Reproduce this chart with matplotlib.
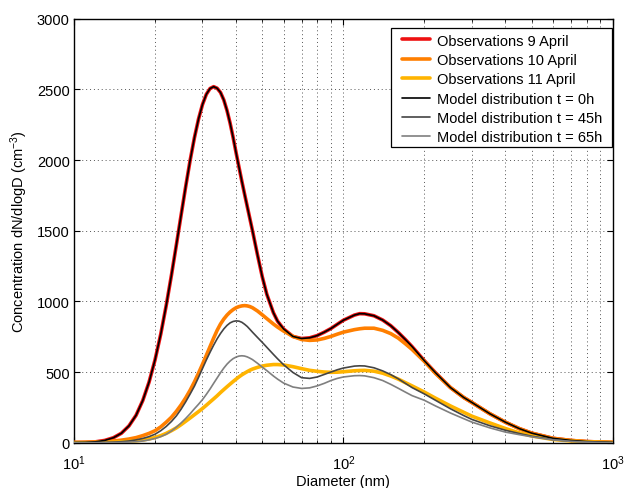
import numpy as np
import matplotlib
matplotlib.use("Agg")
import matplotlib.pyplot as plt
from matplotlib.patches import Rectangle
from matplotlib.ticker import LogLocator, NullFormatter

plt.rcParams['font.family'] = ['Liberation Sans', 'DejaVu Sans']
plt.rcParams['mathtext.fontset'] = 'custom'
plt.rcParams['mathtext.rm'] = 'Liberation Sans'
plt.rcParams['mathtext.it'] = 'Liberation Sans:italic'

diam = [10, 11, 12, 13, 14, 15, 16, 17, 18, 19, 20, 21, 22, 23, 24, 25, 26, 27, 28,
        29, 30, 31, 32, 33, 34, 35, 36, 37, 38, 39, 40, 41, 42, 43, 44, 45, 46, 48,
        50, 52, 55, 57, 60, 65, 70, 75, 80, 85, 90, 95, 100, 110, 115, 120, 130,
        140, 150, 160, 170, 180, 200, 220, 250, 280, 300, 350, 400, 450, 500, 600,
        700, 800, 1000]

obs_9apr = [1, 2, 6, 16, 35, 67, 119, 194, 298, 429, 587, 769, 971, 1184, 1401, 1613,
            1815, 1999, 2158, 2290, 2393, 2465, 2506, 2519, 2508, 2478, 2425, 2350,
            2260, 2158, 2050, 1948, 1850, 1758, 1670, 1584, 1500, 1330, 1175, 1050,
            920, 860, 805, 752, 737, 742, 758, 782, 808, 838, 866, 903, 913, 912,
            898, 868, 828, 780, 730, 680, 580, 495, 390, 320, 285, 205, 145, 100,
            68, 31, 16, 8, 2]
obs_10apr = [2, 3, 5, 8, 12, 18, 26, 36, 50, 66, 85, 112, 145, 180, 222, 268, 318,
             372, 430, 492, 555, 618, 680, 740, 795, 840, 875, 903, 925, 942, 955,
             963, 968, 970, 968, 963, 955, 932, 905, 878, 840, 818, 790, 752, 730,
             724, 727, 738, 752, 768, 782, 800, 806, 810, 810, 795, 772, 740, 700,
             660, 575, 490, 390, 320, 285, 205, 145, 100, 68, 31, 16, 8, 2]
obs_11apr = [0, 0, 1, 2, 4, 6, 9, 13, 19, 27, 37, 50, 66, 85, 105, 128, 152, 175,
             198, 220, 242, 265, 288, 310, 332, 355, 376, 396, 415, 433, 450, 466,
             480, 492, 503, 513, 521, 533, 542, 548, 553, 553, 550, 538, 524, 512,
             505, 500, 498, 499, 502, 509, 511, 512, 506, 492, 472, 450, 425, 402,
             358, 315, 260, 215, 188, 140, 100, 70, 48, 23, 12, 6, 1]

model_0h = obs_9apr
model_45h = [0, 0, 1, 2, 4, 7, 12, 20, 30, 43, 60, 85, 115, 150, 190, 238, 290, 345,
             400, 462, 525, 585, 640, 690, 735, 773, 805, 830, 848, 858, 862, 860,
             852, 838, 822, 802, 782, 745, 710, 675, 625, 594, 552, 497, 460, 455,
             465, 483, 500, 516, 528, 542, 544, 543, 530, 508, 482, 452, 420, 390,
             345, 300, 240, 192, 165, 120, 88, 65, 46, 22, 10, 5, 0]
model_65h = [0, 0, 0, 1, 1, 2, 4, 7, 12, 20, 30, 43, 60, 83, 110, 140, 172, 205,
             240, 272, 305, 342, 380, 420, 458, 495, 528, 556, 578, 595, 606, 613,
             615, 613, 607, 598, 588, 562, 535, 510, 472, 450, 422, 394, 384, 388,
             402, 420, 440, 455, 465, 474, 475, 473, 460, 440, 413, 385, 358, 333,
             300, 260, 210, 170, 146, 105, 75, 57, 42, 20, 9, 4, 0]

labels = ['Observations 9 April', 'Observations 10 April', 'Observations 11 April',
          'Model distribution t = 0h', 'Model distribution t = 45h',
          'Model distribution t = 65h']

W, H = 627, 489
fig = plt.figure(figsize=(W/100, H/100), dpi=100)
ax = fig.add_axes([74/W, 1-443.7/H, (612.6-74)/W, (443.7-19.7)/H])

kw = dict(solid_joinstyle='round', solid_capstyle='round')
ax.plot(diam, obs_9apr, color='#ee1111', lw=2.6, label=labels[0], zorder=3, **kw)
ax.plot(diam, obs_10apr, color='#ff7f00', lw=2.6, label=labels[1], zorder=3, **kw)
ax.plot(diam, obs_11apr, color='#ffb400', lw=2.6, label=labels[2], zorder=3, **kw)
ax.plot(diam, model_0h, color='black', lw=1.2, label=labels[3], zorder=4, **kw)
ax.plot(diam, model_45h, color='#444444', lw=1.2, label=labels[4], zorder=4, **kw)
ax.plot(diam, model_65h, color='#7f7f7f', lw=1.2, label=labels[5], zorder=4, **kw)

ax.set_xscale('log')
ax.set_xlim(10, 1000)
ax.set_ylim(0, 3000)
ax.set_yticks(np.arange(0, 3001, 500))
ax.xaxis.set_minor_locator(LogLocator(base=10, subs=np.arange(2, 10)))
ax.xaxis.set_minor_formatter(NullFormatter())

gstyle = dict(linestyle=(0, (1, 3)), color='#555555', lw=0.7)
ax.grid(True, which='major', **gstyle)
ax.grid(True, which='minor', axis='x', **gstyle)
ax.tick_params(which='both', direction='in', top=True, right=True, labelsize=10.5)
ax.tick_params(which='major', length=4)
ax.tick_params(which='minor', length=2)
ax.tick_params(axis='x', pad=8)
ax.tick_params(axis='y', pad=3)
for s in ax.spines.values():
    s.set_linewidth(1.0)

ax.set_xlabel('Diameter (nm)', fontsize=10.5, labelpad=1)
ax.set_ylabel('Concentration dN/dlogD (cm$^{-3}$)', fontsize=10.5, labelpad=5)

# legend box drawn by hand so the padding matches the original
box = Rectangle((391/W, 1-147.7/H), (611.7-391)/W, (147.7-29.3)/H,
                transform=fig.transFigure, facecolor='white', edgecolor='black',
                lw=0.9, zorder=5, clip_on=False)
ax.add_patch(box)
leg = ax.legend(loc='upper left', bbox_to_anchor=(401.5/W, 1-34.5/H),
                bbox_transform=fig.transFigure, fontsize=10.5, frameon=False,
                borderaxespad=0, borderpad=0, handlelength=1.95,
                labelspacing=0.37, handletextpad=0.5)
leg.set_zorder(6)

fig.savefig('out.png', dpi=100)
